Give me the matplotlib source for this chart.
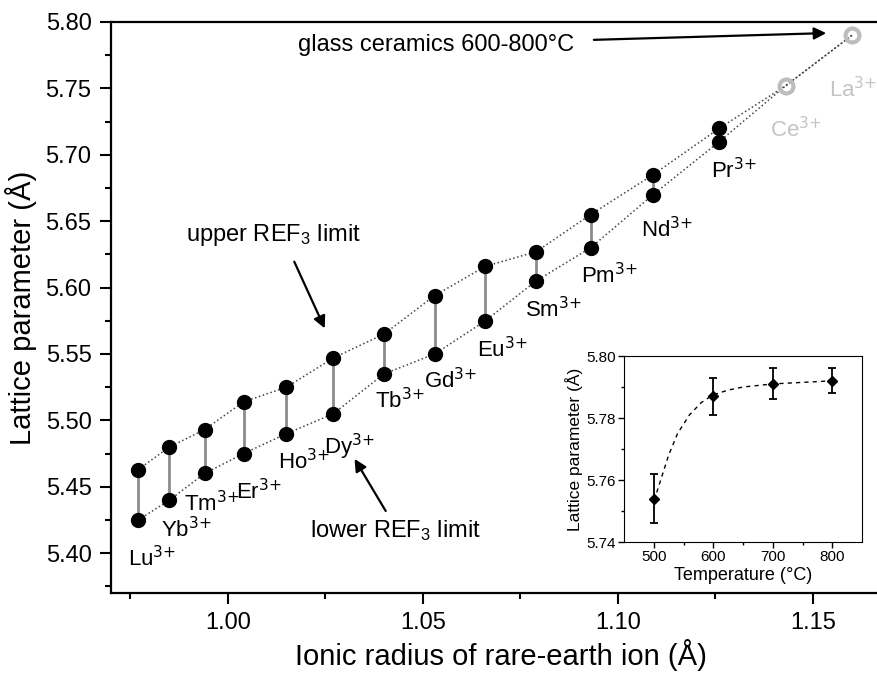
import matplotlib
matplotlib.use('Agg')
import matplotlib.pyplot as plt
from matplotlib.ticker import FormatStrFormatter

plt.rcParams['font.family'] = ['Liberation Sans', 'DejaVu Sans']
plt.rcParams['mathtext.default'] = 'regular'

# ionic radius (A) and lattice parameter limits for each REF3
ions = ['Lu', 'Yb', 'Tm', 'Er', 'Ho', 'Dy', 'Tb', 'Gd', 'Eu', 'Sm', 'Pm', 'Nd', 'Pr']
radius = [0.977, 0.985, 0.994, 1.004, 1.015, 1.027, 1.040, 1.053, 1.066, 1.079, 1.093, 1.109, 1.126]
upper = [5.463, 5.480, 5.493, 5.514, 5.525, 5.547, 5.565, 5.594, 5.616, 5.627, 5.655, 5.685, 5.720]
lower = [5.425, 5.440, 5.460, 5.475, 5.490, 5.505, 5.535, 5.550, 5.575, 5.605, 5.630, 5.670, 5.710]

# glass ceramics points (Ce, La)
gc_ions = ['Ce', 'La']
gc_radius = [1.143, 1.160]
gc_lattice = [5.752, 5.790]

# inset: lattice parameter vs annealing temperature
temp = [500, 600, 700, 800]
temp_lattice = [5.754, 5.787, 5.791, 5.792]
temp_err = [0.008, 0.006, 0.005, 0.004]
fit_t = [505, 515, 525, 540, 560, 580, 600, 625, 650, 700, 750, 800]
fit_a = [5.756, 5.762, 5.768, 5.775, 5.781, 5.785, 5.7875, 5.789, 5.790, 5.791, 5.7915, 5.792]

# where each ion name sits (left edge, baseline)
label_pos = {
    'Lu': (0.9744, 5.390), 'Yb': (0.9829, 5.412), 'Tm': (0.9888, 5.4315), 'Er': (1.0021, 5.4405),
    'Ho': (1.0128, 5.463), 'Dy': (1.0246, 5.4743), 'Tb': (1.0377, 5.5095), 'Gd': (1.0503, 5.5245),
    'Eu': (1.0638, 5.5478), 'Sm': (1.0762, 5.5779), 'Pm': (1.0905, 5.6034), 'Nd': (1.1059, 5.6379),
    'Pr': (1.1238, 5.6822), 'Ce': (1.1390, 5.7130), 'La': (1.1541, 5.7430),
}

fig = plt.figure(figsize=(8.78, 6.81), dpi=100)
ax = fig.add_axes([0.1264, 0.1292, 0.8884, 0.8385])

ax.plot(radius + gc_radius, upper + gc_lattice, ':', color='#444444', lw=1.1, zorder=1)
ax.plot(radius + gc_radius, lower + gc_lattice, ':', color='#444444', lw=1.1, zorder=1)
ax.vlines(radius, lower, upper, color='#8c8c8c', lw=2, zorder=2)
ax.plot(radius, upper, 'o', color='black', ms=10, zorder=3)
ax.plot(radius, lower, 'o', color='black', ms=10, zorder=3)
ax.plot(gc_radius, gc_lattice, 'o', mfc='none', mec='#bdbdbd', mew=3, ms=10, zorder=3)

for name in ions:
    x, y = label_pos[name]
    ax.text(x, y, name + r'$^{\text{3+}}$', fontsize=16, ha='left', va='baseline', color='black')
for name in gc_ions:
    x, y = label_pos[name]
    ax.text(x, y, name + r'$^{\text{3+}}$', fontsize=16, ha='left', va='baseline', color='#c4c4c4')

arrow = dict(arrowstyle='-|>', color='black', lw=1.6, mutation_scale=18)
ax.text(1.0179, 5.7827, 'glass ceramics 600-800°C', fontsize=17, ha='left', va='center')
ax.annotate('', xy=(1.1541, 5.7917), xytext=(1.0931, 5.7865), arrowprops=arrow)

ax.text(0.9892, 5.6394, 'upper REF$_3$ limit', fontsize=17, ha='left', va='center')
ax.annotate('', xy=(1.0251, 5.5674), xytext=(1.0167, 5.6214), arrowprops=arrow)

ax.text(1.0210, 5.4173, 'lower REF$_3$ limit', fontsize=17, ha='left', va='center')
ax.annotate('', xy=(1.0321, 5.4728), xytext=(1.0408, 5.430), arrowprops=arrow)

ax.set_xlim(0.97, 1.17)
ax.set_ylim(5.37, 5.80)
ax.set_xticks([1.00, 1.05, 1.10, 1.15])
ax.set_xticks([0.975, 1.025, 1.075, 1.125], minor=True)
ax.set_yticks([5.40, 5.45, 5.50, 5.55, 5.60, 5.65, 5.70, 5.75, 5.80])
ax.set_yticks([5.375, 5.425, 5.475, 5.525, 5.575, 5.625, 5.675, 5.725, 5.775], minor=True)
ax.xaxis.set_major_formatter(FormatStrFormatter('%.2f'))
ax.yaxis.set_major_formatter(FormatStrFormatter('%.2f'))
ax.tick_params(which='major', direction='out', length=8, width=1.5, labelsize=17, pad=6)
ax.tick_params(which='minor', direction='out', length=4, width=1.5)
for s in ax.spines.values():
    s.set_linewidth(1.6)
ax.set_xlabel('Ionic radius of rare-earth ion (Å)', fontsize=21, labelpad=3)
ax.set_ylabel('Lattice parameter (Å)', fontsize=21, labelpad=6)

# inset
ins = fig.add_axes([0.7107, 0.2041, 0.2711, 0.2731])
ins.plot(fit_t, fit_a, '--', color='black', lw=1, dashes=(3, 3))
ins.errorbar(temp, temp_lattice, yerr=temp_err, fmt='D', color='black', ms=5,
             capsize=3, elinewidth=1.3, capthick=1.3)
ins.set_xlim(450, 850)
ins.set_ylim(5.74, 5.80)
ins.set_xticks([500, 600, 700, 800])
ins.set_xticks([550, 650, 750], minor=True)
ins.set_yticks([5.74, 5.76, 5.78, 5.80])
ins.set_yticks([5.75, 5.77, 5.79], minor=True)
ins.yaxis.set_major_formatter(FormatStrFormatter('%.2f'))
ins.tick_params(which='major', direction='out', length=4, width=1, labelsize=11, pad=2)
ins.tick_params(which='minor', direction='out', length=2, width=1)
ins.set_xlabel('Temperature (°C)', fontsize=13, labelpad=2)
ins.set_ylabel('Lattice parameter (Å)', fontsize=12.5, labelpad=2)

fig.savefig('out.png', dpi=100)
